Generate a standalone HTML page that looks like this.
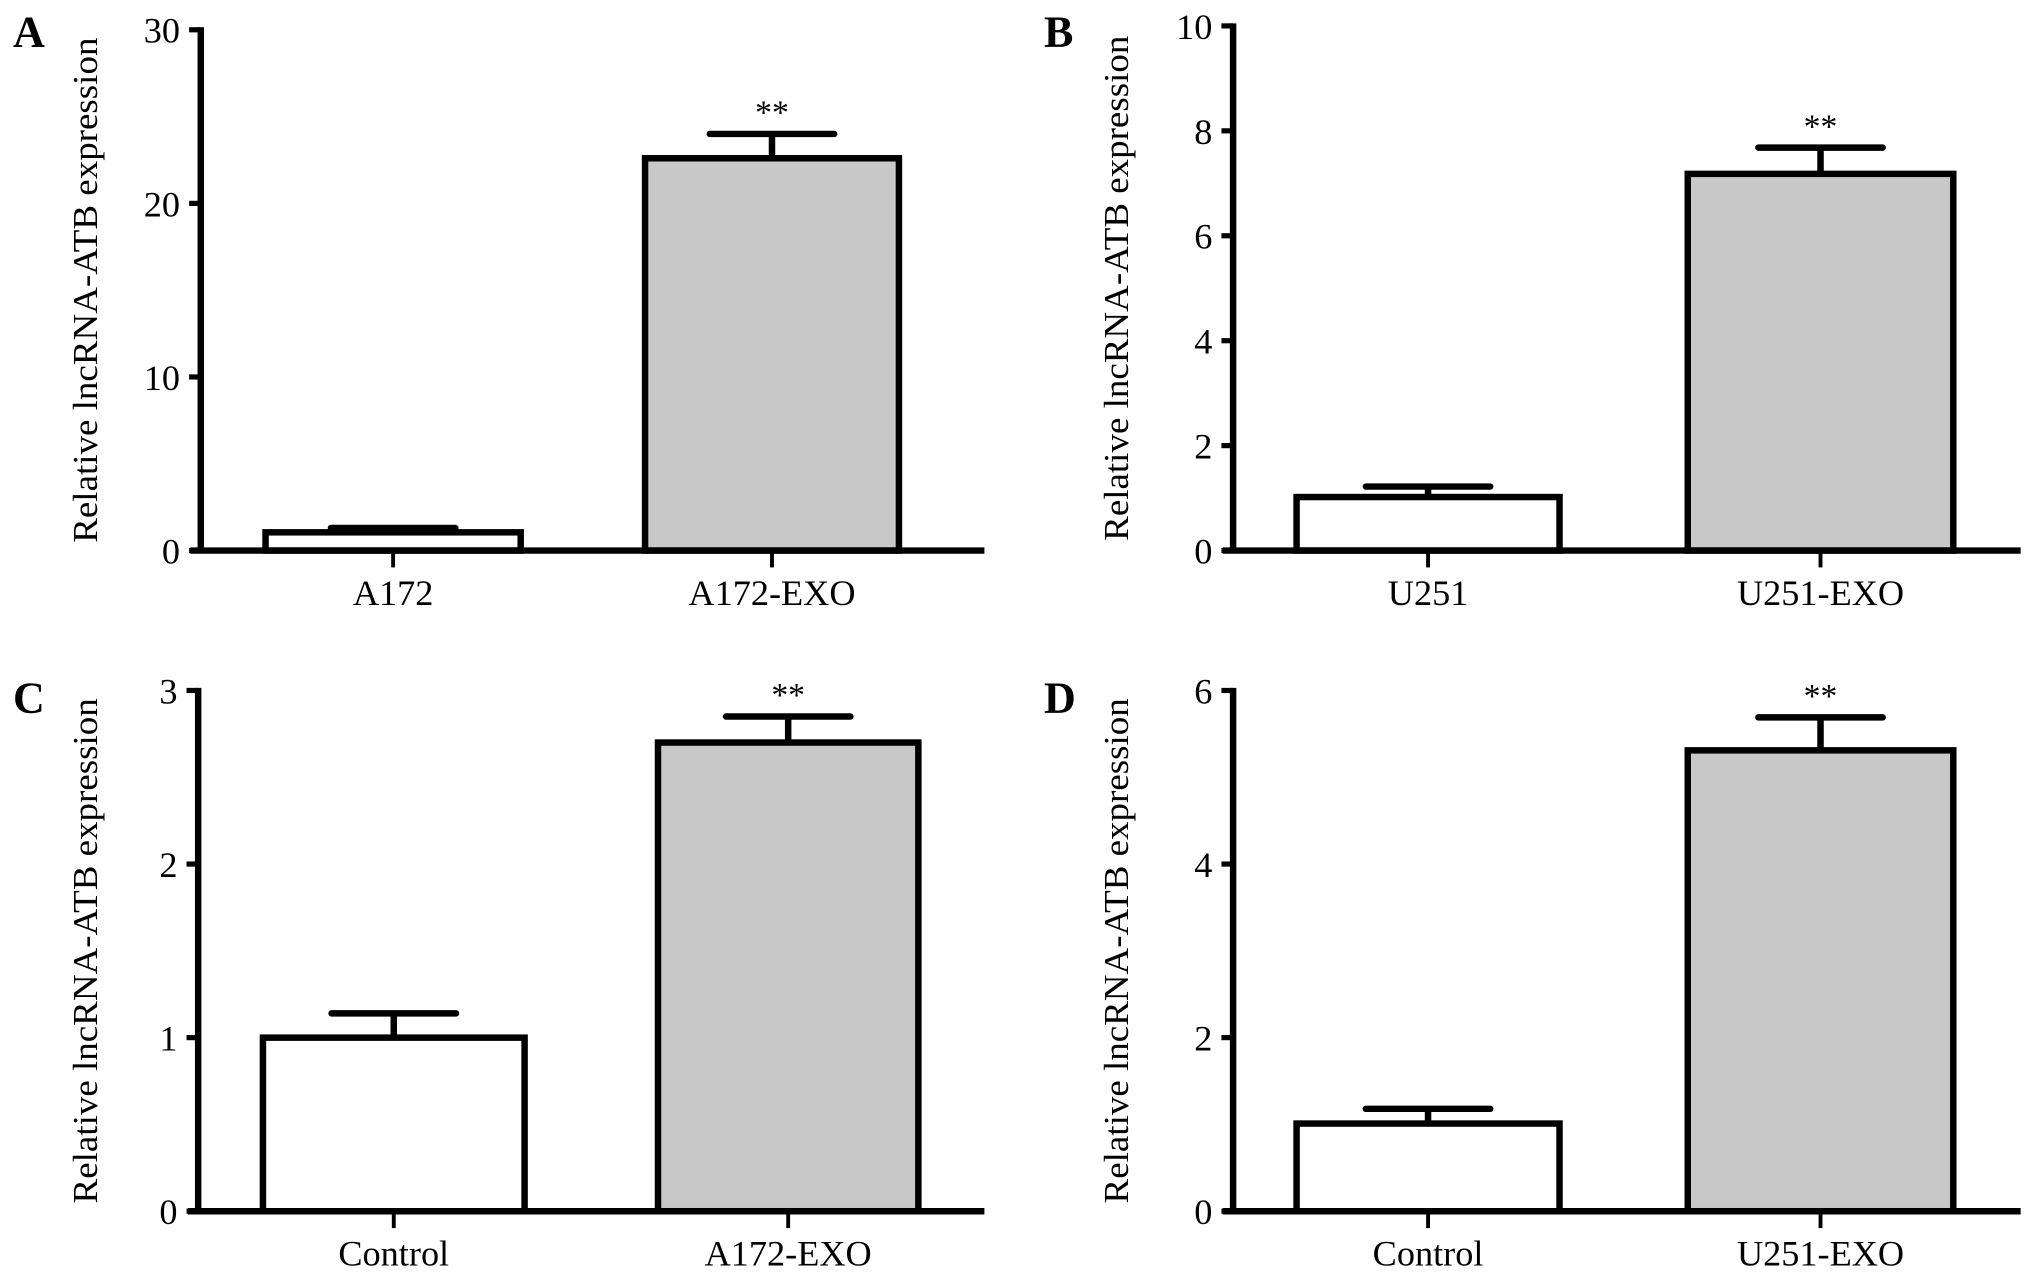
<!DOCTYPE html>
<html><head><meta charset="utf-8"><style>
html,body{margin:0;padding:0;background:#fff;}
svg{display:block;font-family:"Liberation Serif",serif;}
</style></head><body>
<svg id="fig" width="2031" height="1276" viewBox="0 0 1568 985" preserveAspectRatio="none" xmlns="http://www.w3.org/2000/svg"></svg>
<script>
const panelLetters = ["A","B","C","D"];
const categoriesA = ["A172","A172-EXO"];
const valuesA = [1.05, 22.6];
const errorsA = [0.25, 1.4];
const ticksA = [0,10,20,30];
const categoriesB = ["U251","U251-EXO"];
const valuesB = [1.02, 7.18];
const errorsB = [0.2, 0.5];
const ticksB = [0,2,4,6,8,10];
const categoriesC = ["Control","A172-EXO"];
const valuesC = [1.0, 2.70];
const errorsC = [0.14, 0.15];
const ticksC = [0,1,2,3];
const categoriesD = ["Control","U251-EXO"];
const valuesD = [1.01, 5.31];
const errorsD = [0.17, 0.38];
const ticksD = [0,2,4,6];

const NS="http://www.w3.org/2000/svg";
const svg=document.getElementById('fig');
function mk(tag,attrs,parent){const e=document.createElementNS(NS,tag);for(const k in attrs)e.setAttribute(k,attrs[k]);(parent||svg).appendChild(e);return e;}

const layouts=[
 {ax:155,top:23,zero:425,xEnd:760,bars:[[205,402],[498,694]],lx:10,ly:36,tx:66},
 {ax:952,top:20,zero:425,xEnd:1560,bars:[[1001,1204],[1303,1508]],lx:806,ly:36,tx:862},
 {ax:153,top:533,zero:935,xEnd:760,bars:[[203,405],[508,709]],lx:10,ly:550,tx:66},
 {ax:952,top:533,zero:935,xEnd:1560,bars:[[1001,1204],[1303,1508]],lx:806,ly:550,tx:862}
];
const data=[[categoriesA,valuesA,errorsA,ticksA],[categoriesB,valuesB,errorsB,ticksB],[categoriesC,valuesC,errorsC,ticksC],[categoriesD,valuesD,errorsD,ticksD]];
const fills=["#ffffff","#c8c8c8"];

data.forEach((d,i)=>{
 const [cats,vals,errs,ticks]=d; const L=layouts[i];
 const g=mk('g',{});
 
 
 const ymax=ticks[ticks.length-1];
 const y=v=>L.zero-(v/ymax)*(L.zero-L.top);
 const lt=mk('text',{x:L.lx,y:L.ly,'font-size':34,'font-weight':'bold'},g);lt.textContent=panelLetters[i];
 
 
 cats.forEach((c,j)=>{
  const [x0,x1]=L.bars[j]; const cx=(x0+x1)/2;
  const eb=mk('line',{x1:cx,x2:cx,y1:y(vals[j]),y2:y(vals[j]+errs[j]),stroke:'#000','stroke-width':5},g);
  
  
  const cap=mk('line',{x1:cx-48,x2:cx+48,y1:y(vals[j]+errs[j]),y2:y(vals[j]+errs[j]),stroke:'#000','stroke-width':5,'stroke-linecap':'round'},g);
  
  
  const r=mk('rect',{x:x0,y:y(vals[j]),width:x1-x0,height:L.zero-y(vals[j]),fill:fills[j],stroke:'#000','stroke-width':5},g);
  
  
  const tk=mk('line',{x1:cx,x2:cx,y1:L.zero,y2:L.zero+13,stroke:'#000','stroke-width':3},g);
  
  
  const tl=mk('text',{x:cx,y:L.zero+42,'font-size':28,'text-anchor':'middle'},g);tl.textContent=c;
  
  
  if(j===1){const st=mk('text',{x:cx,y:y(vals[j]+errs[j])-8,'font-size':26,'text-anchor':'middle'},g);st.textContent='**';
   
   }
 });
 const ya=mk('line',{x1:L.ax,x2:L.ax,y1:L.top-2,y2:L.zero+2,stroke:'#000','stroke-width':5},g);
 
 
 const xa=mk('line',{x1:L.ax-8,x2:L.xEnd,y1:L.zero,y2:L.zero,stroke:'#000','stroke-width':5},g);
 
 
 ticks.forEach(t=>{
  const tk=mk('line',{x1:L.ax-9,x2:L.ax,y1:y(t),y2:y(t),stroke:'#000','stroke-width':4},g);
  
  
  const tl=mk('text',{x:L.ax-16,y:y(t)+10,'font-size':28,'text-anchor':'end'},g);tl.textContent=t;
  
  
 });
 const ty=(L.top+L.zero)/2;
 const tt=mk('text',{x:L.tx,y:ty,'font-size':27,'text-anchor':'middle',textLength:390,lengthAdjust:'spacingAndGlyphs',transform:`rotate(-90 ${L.tx} ${ty})`,dy:9},g);
 tt.textContent='Relative lncRNA-ATB expression';
 
 
});
</script>
</body></html>
